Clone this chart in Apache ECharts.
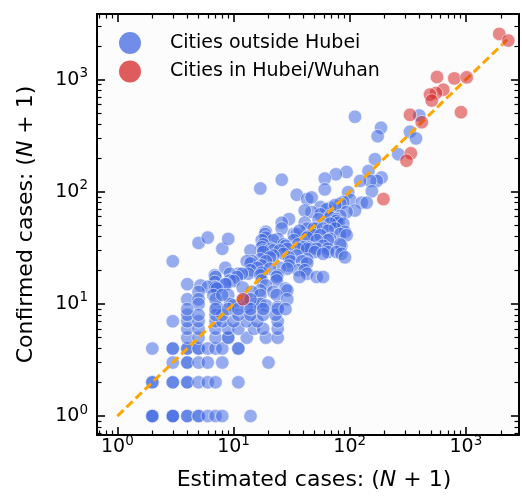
<!DOCTYPE html>
<html>
<head>
<meta charset="utf-8">
<script src="https://cdn.jsdelivr.net/npm/echarts@6/dist/echarts.min.js"></script>
<style>
  html, body { margin: 0; padding: 0; background: #fff; }
  #chart { width: 522px; height: 496px; }
</style>
</head>
<body>
<div id="chart"></div>
<script>
// estimated (N+1), confirmed (N+1) -- cities outside Hubei
var outsidePoints = [
  [111,466],[186,372],[174,313],[397,478],[330,343],[372,299],[165,195],[262,216],
  [145,153],[188,134],[171,125],[150,125],[123,125],[155,101],[94,150],[76,143],
  [61,131],[61,105],[26,128],[17,107],[35,94],[43,86],[47,89],[97,99],[101,85],
  [88,81],[127,80],[140,80],[83,78],[68,72],[56,73],[63,70],[75,76],[111,68],
  [94,66],[47,66],[41,68],[56,63],[68,61],[83,61],[68,59],[54,57],[77,57],[77,55],
  [80,53],[88,52],[68,52],[30,57],[26,53],[26,47],[41,53],[43,47],[52,47],[49,47],
  [59,47],[75,47],[65,45],[91,44],[83,42],[94,41],[19,44],[18.7,42],[33,42],[35,42],
  [37,45],[44,40],[49,41],[56,41],[43,39],[19,39],[24,38],[68,38],[65,37],[52,37],
  [33,37],[22,37],[17.5,37],[59,33],[85,33],[83,34],[36,34],[27,34],[18,34],[28,33],
  [17.5,32],[44,32],[40,32],[46,31],[36,31],[43,31],[52,31],[65,31],[29,31],[21,31],
  [14,30],[18,30],[22,30],[25,30],[50,29],[65,29],[77,29],[18,29],[85,28],[59,28],
  [27,28],[22,27],[35,27],[91,26],[30,26],[20.6,26],[43,25],[17,25],[31,24],[39,24],
  [19,24],[14.4,24],[13,24],[43,23],[14,23],[30,22],[17.5,22],[16,21],[25,21],[8.5,21],
  [36,20],[41,20],[14,20],[29,20.6],[20.6,20.6],[17.5,19],[43,18.6],[13.4,18.6],
  [11,18.6],[9.3,18.6],[11.8,18.6],[24,18],[17,18],[6.9,18],[52,17.4],[59,17.4],
  [37,17.4],[23.5,17.4],[10.7,17.4],[7,17.4],[23.5,16.2],[17.5,16.2],[9.3,16.2],[10,16],
  [6.9,15.7],[8.7,15],[8.5,15],[4,15],[19,14.6],[5.2,14.6],[6.9,14.2],[6,14.2],[7,14],
  [7.2,13.7],[28,13.7],[29,13.2],[17,13.2],[22,12.8],[14.4,12.8],[5,12.8],[23.5,12],
  [17,12],[9,12],[6.7,12],[29,11],[15,10],[17,10],[9.3,10],[19,9.7],[10,9.7],[24,9.4],
  [13,9.4],[7.2,9.4],[3,24],[5,35],[6,39],[8,31],[9,38],
  [4,11],[5,11],[5,10],[7,11],[8,12],[12,11],[12,14],[14,11],
  // low counts
  [2,1],[2,1],[2,1],[3,1],[3,1],[3,1],[4,1],[4,1],[5,1],[5,1],[6,1],[7,1],[8,1],[14,1],
  [2,2],[2,2],[3,2],[3,2],[4,2],[4,2],[5,2],[6,2],[7,2],[11,2],
  [3,3],[4,3],[4,3],[5,3],[6,3],[8,3],[20,3],
  [2,4],[3,4],[3,4],[4,4],[4,4],[5,4],[5,4],[6,4],[7,4],[8,4],[11,4],[11,4],
  [4,5],[5,5],[7,5],[9,5],[9,5],[13,5],[19,5],[24,5],
  [4,6],[5,6],[7,6],[9,6],[11,6],[15,6],[18,6],[24,6],
  [3,7],[4,7],[5,7],[7,7],[8,7],[10,7],[13,7],[16,7],[24,7],
  [4,8],[5,8],[7,8],[8,8],[11,8],[14,8],[18,8],[23,8],
  [4,9],[7,9],[9,9],[11,9],[14,9],[18,9],[24,9],[28,9]
];
// cities in Hubei / Wuhan
var hubeiPoints = [
  [1937,2555],[2317,2228],[564,1054],[795,1025],[1016,1047],[639,813],[553,760],
  [491,735],[508,650],[907,512],[330,485],[417,417],[336,220],[308,189],[195,86],[12.1,11]
];
var diagonal = [1, 2300];
var majorExp = [0, 1, 2, 3];
var minorMult = [2, 3, 4, 5, 6, 7, 8, 9];
var seriesNames = ['Cities outside Hubei', 'Cities in Hubei/Wuhan'];

var FONT = 'DejaVu Sans';
var xMin = Math.log10(0.668), xMax = Math.log10(2865);
var yMin = Math.log10(0.678), yMax = Math.log10(3845);

function lg(p) { return [Math.log10(p[0]), Math.log10(p[1])]; }

function minorTicks(lo, hi) {
  var out = [];
  for (var k = -1; k <= 3; k++) {
    minorMult.forEach(function (m) {
      var v = Math.log10(m) + k;
      if (v > lo && v < hi) out.push(v);
    });
  }
  return out;
}

var tickLabel = {
  show: true,
  customValues: majorExp,
  color: '#000',
  formatter: function (v) { return '{b|10}{s|' + Math.round(v) + '}'; },
  rich: {
    b: { fontSize: 19, fontFamily: FONT, color: '#000', lineHeight: 26 },
    s: { fontSize: 13.5, fontFamily: FONT, color: '#000', verticalAlign: 'top' }
  }
};

function mkAxis(pos, lo, hi, ticks, len, showLine, label) {
  return {
    type: 'value', position: pos, min: lo, max: hi,
    axisLine: { show: showLine, onZero: false, lineStyle: { color: '#000', width: 2 } },
    axisTick: { show: true, inside: true, length: len, customValues: ticks,
      lineStyle: { color: '#000', width: len > 5 ? 1.6 : 1.2 } },
    axisLabel: label || { show: false },
    splitLine: { show: false }
  };
}

var xAxes = [
  mkAxis('bottom', xMin, xMax, majorExp, 8, true, Object.assign({ margin: -1 }, tickLabel)),
  mkAxis('bottom', xMin, xMax, minorTicks(xMin, xMax), 4.5, false),
  mkAxis('top', xMin, xMax, majorExp, 8, true),
  mkAxis('top', xMin, xMax, minorTicks(xMin, xMax), 4.5, false)
];
xAxes[0].name = 'Estimated cases: ({i|N} + 1)';
xAxes[0].nameLocation = 'middle';
xAxes[0].nameGap = 34;
xAxes[0].nameTextStyle = { fontSize: 22, fontFamily: FONT, color: '#000', padding: [0, 0, 0, 12],
  rich: { i: { fontSize: 22, fontFamily: FONT, fontStyle: 'italic', color: '#000' } } };

var yAxes = [
  mkAxis('left', yMin, yMax, majorExp, 8, true, Object.assign({ margin: 9 }, tickLabel)),
  mkAxis('left', yMin, yMax, minorTicks(yMin, yMax), 4.5, false),
  mkAxis('right', yMin, yMax, majorExp, 8, true),
  mkAxis('right', yMin, yMax, minorTicks(yMin, yMax), 4.5, false)
];
yAxes[0].name = 'Confirmed cases: ({i|N} + 1)';
yAxes[0].nameLocation = 'middle';
yAxes[0].nameGap = 60;
yAxes[0].nameTextStyle = { fontSize: 22, fontFamily: FONT, color: '#000',
  rich: { i: { fontSize: 22, fontFamily: FONT, fontStyle: 'italic', color: '#000' } } };

var chart = echarts.init(document.getElementById('chart'), null, { renderer: 'canvas' });
chart.setOption({
  animation: false,
  backgroundColor: '#fff',
  grid: { left: 97, top: 14, right: 3, bottom: 59, show: true, backgroundColor: '#fcfcfc', borderWidth: 0 },
  legend: {
    data: seriesNames,
    orient: 'vertical',
    left: 114, top: 27,
    icon: 'circle',
    itemWidth: 22, itemHeight: 22, itemGap: 6.5,
    itemStyle: { borderWidth: 0, opacity: 0.75 },
    textStyle: { fontSize: 19, fontFamily: FONT, color: '#000', padding: [0, 0, 0, 24] }
  },
  xAxis: xAxes,
  yAxis: yAxes,
  series: [
    {
      name: seriesNames[0], type: 'scatter', xAxisIndex: 0, yAxisIndex: 0,
      symbolSize: 13.5, z: 2,
      itemStyle: { color: '#4169E1', opacity: 0.55, borderColor: '#fff', borderWidth: 1 },
      data: outsidePoints.map(lg)
    },
    {
      type: 'line', xAxisIndex: 0, yAxisIndex: 0, z: 3, silent: true,
      showSymbol: false, symbol: 'none',
      lineStyle: { color: '#FFA500', width: 3, type: [8.5, 4.2] },
      data: [lg([diagonal[0], diagonal[0]]), lg([diagonal[1], diagonal[1]])]
    },
    {
      name: seriesNames[1], type: 'scatter', xAxisIndex: 0, yAxisIndex: 0,
      symbolSize: 13.5, z: 4,
      itemStyle: { color: '#D62728', opacity: 0.55, borderColor: '#fff', borderWidth: 1 },
      data: hubeiPoints.map(lg)
    }
  ]
});
</script>
</body>
</html>
